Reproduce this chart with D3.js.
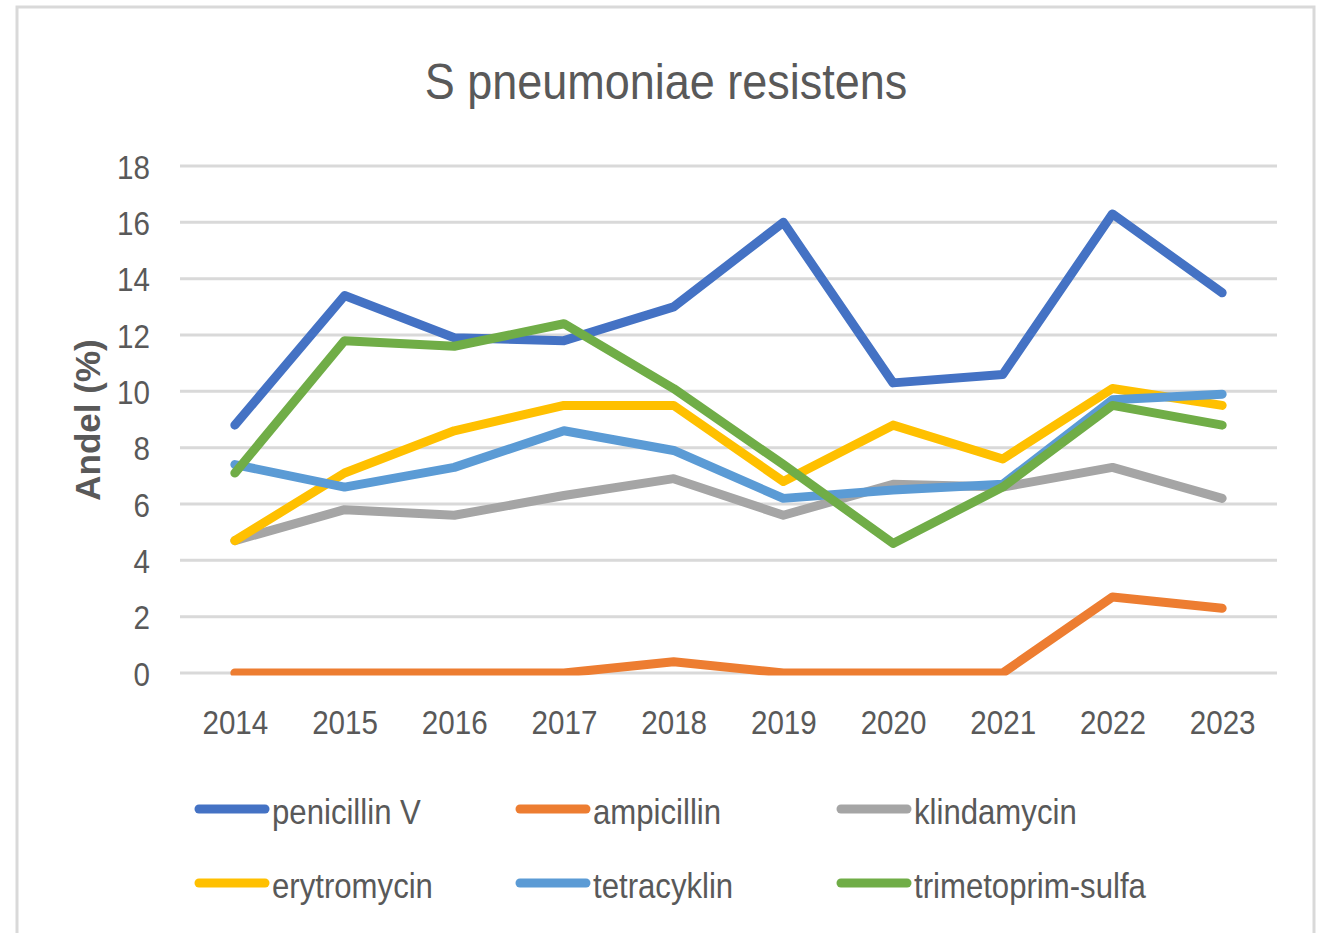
<!DOCTYPE html>
<html>
<head>
<meta charset="utf-8">
<script src="https://cdn.jsdelivr.net/npm/d3@7"></script>
<style>
  body { margin: 0; background: #fff; }
  text { font-family: "Liberation Sans", Arial, sans-serif; fill: #595959; }
</style>
</head>
<body>
<script>
var width = 1325, height = 933;

var years = ["2014", "2015", "2016", "2017", "2018", "2019", "2020", "2021", "2022", "2023"];
var penicillin = [8.8, 13.4, 11.9, 11.8, 13.0, 16.0, 10.3, 10.6, 16.3, 13.5];
var ampicillin = [0, 0, 0, 0, 0.4, 0, 0, 0, 2.7, 2.3];
var klindamycin = [4.7, 5.8, 5.6, 6.3, 6.9, 5.6, 6.7, 6.6, 7.3, 6.2];
var erytromycin = [4.7, 7.1, 8.6, 9.5, 9.5, 6.8, 8.8, 7.6, 10.1, 9.5];
var tetracyklin = [7.4, 6.6, 7.3, 8.6, 7.9, 6.2, 6.5, 6.7, 9.7, 9.9];
var trimetoprim = [7.1, 11.8, 11.6, 12.4, 10.1, 7.4, 4.6, 6.6, 9.5, 8.8];
var yTicks = [0, 2, 4, 6, 8, 10, 12, 14, 16, 18];

var series = [
  {name: "penicillin V", values: penicillin, color: "#4472C4"},
  {name: "ampicillin", values: ampicillin, color: "#ED7D31"},
  {name: "klindamycin", values: klindamycin, color: "#A5A5A5"},
  {name: "erytromycin", values: erytromycin, color: "#FFC000"},
  {name: "tetracyklin", values: tetracyklin, color: "#5B9BD5"},
  {name: "trimetoprim-sulfa", values: trimetoprim, color: "#70AD47"}
];

// Calibri-ish look: squeeze the sans a bit horizontally
var squeeze = 0.87;

var svg = d3.select("body").append("svg")
    .attr("width", width).attr("height", height);

// chart border
svg.append("rect")
    .attr("x", 17).attr("y", 7)
    .attr("width", 1297).attr("height", 960)
    .attr("fill", "none").attr("stroke", "#d9d9d9").attr("stroke-width", 3);

svg.append("text")
    .attr("transform", "translate(666,99) scale(0.9,1)")
    .attr("text-anchor", "middle")
    .style("font-size", "50px")
    .text("S pneumoniae resistens");

var x = d3.scalePoint().domain(years).range([180, 1277]).padding(0.5);
var y = d3.scaleLinear().domain([0, 18]).range([673, 166]);

// gridlines
svg.append("g").selectAll("line").data(yTicks).enter().append("line")
    .attr("x1", 180).attr("x2", 1277)
    .attr("y1", function(d) { return y(d); })
    .attr("y2", function(d) { return y(d); })
    .attr("stroke", "#d9d9d9").attr("stroke-width", 3);

var yAxis = svg.append("g").attr("transform", "translate(150,0)")
    .call(d3.axisLeft(y).tickValues(yTicks).tickSize(0).tickPadding(0));
yAxis.select(".domain").remove();
yAxis.selectAll("text").style("font-size", "34px").attr("fill", "#595959")
    .attr("dy", "0.36em").attr("transform", "scale(" + squeeze + ",1)");

var xAxis = svg.append("g").attr("transform", "translate(0,707)")
    .call(d3.axisBottom(x).tickSize(0).tickPadding(0));
xAxis.select(".domain").remove();
xAxis.selectAll("text").style("font-size", "34px").attr("fill", "#595959")
    .attr("dy", "0.8em").attr("transform", "scale(" + squeeze + ",1)");

svg.append("text")
    .attr("transform", "translate(100,420) rotate(-90)")
    .attr("text-anchor", "middle")
    .style("font-weight", "bold")
    .style("font-size", "35px")
    .text("Andel (%)");

svg.append("clipPath").attr("id", "plot-clip")
  .append("rect").attr("x", 170).attr("y", 150).attr("width", 1120).attr("height", y(0) + 2.5 - 150);

var line = d3.line()
    .x(function(d, i) { return x(years[i]); })
    .y(function(d) { return y(d); });

svg.append("g").attr("clip-path", "url(#plot-clip)")
  .selectAll("path").data(series).enter().append("path")
    .attr("d", function(d) { return line(d.values); })
    .attr("fill", "none")
    .attr("stroke", function(d) { return d.color; })
    .attr("stroke-width", 9)
    .attr("stroke-linecap", "round")
    .attr("stroke-linejoin", "round");

// legend, 3 columns x 2 rows
var legend = svg.append("g").selectAll("g").data(series).enter().append("g")
    .attr("transform", function(d, i) {
      return "translate(" + (199 + (i % 3) * 321) + "," + (809 + Math.floor(i / 3) * 74) + ")";
    });
legend.append("line")
    .attr("x1", 0).attr("x2", 66)
    .attr("stroke", function(d) { return d.color; })
    .attr("stroke-width", 9)
    .attr("stroke-linecap", "round");
legend.append("text")
    .attr("transform", "translate(73,2) scale(0.89,1)")
    .attr("dy", "0.36em")
    .style("font-size", "35px")
    .text(function(d) { return d.name; });
</script>
</body>
</html>
